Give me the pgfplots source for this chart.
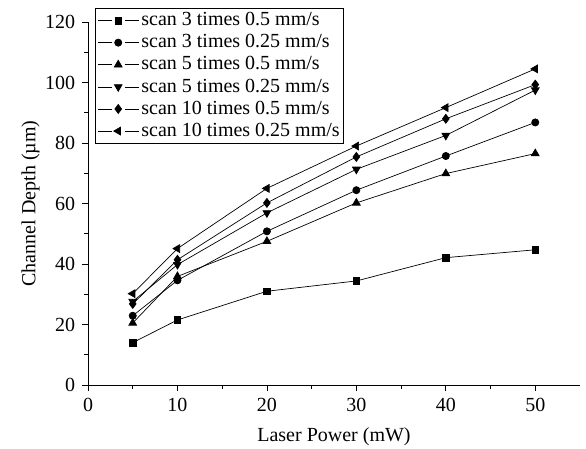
\documentclass[border=0pt]{standalone}
\usepackage{pgfplots}
\pgfplotsset{compat=1.18}
\usepackage{fontspec}
\setmainfont{Liberation Serif}
\begin{document}
\fontsize{20}{23}\selectfont
\begin{tikzpicture}
\begin{axis}[
  name=ax,
  scale only axis,
  width=492pt, height=363pt,
  xmin=0, xmax=55, ymin=0, ymax=120,
  axis x line*=bottom, axis y line*=left,
  axis line style={-, line width=0.9pt},
  xtick={0,10,20,30,40,50},
  minor xtick={5,15,25,35,45},
  ytick={0,20,40,60,80,100,120},
  minor ytick={10,30,50,70,90,110},
  tick align=outside,
  major tick length=6pt, minor tick length=4pt,
  tick style={line width=0.8pt, black},
  /pgf/number format/assume math mode=true,
  ticklabel style={font=\fontsize{20}{23}\selectfont},
  label style={font=\fontsize{20}{23}\selectfont},
  xlabel={Laser Power (mW)},
  ylabel={Channel Depth (\textmu m)},
  xlabel style={yshift=-3pt},
  ylabel style={yshift=-8pt},
  legend style={at={(axis description cs:0,1)}, anchor=north west, xshift=7pt, yshift=14pt,
    font=\fontsize{20}{23}\selectfont, draw=black, line width=0.8pt, inner sep=2pt,
    row sep=1.8pt, legend cell align=left,
    nodes={inner sep=2pt}},
  legend image code/.code={
    \draw[mark=none] (0cm,0cm) -- (0.5cm,0cm);
    \draw[mark=none] (0.95cm,0cm) -- (1.45cm,0cm);
    \draw plot[only marks] coordinates {(0.72cm,0cm)};},
]
\addplot[black, line width=0.7pt, mark=square*, mark size=3.3pt, mark options={solid, fill=black}] coordinates {(5,14) (10,21.5) (20,31) (30,34.4) (40,42.1) (50,44.7)};
\addlegendentry{scan 3 times 0.5 mm/s}
\addplot[black, line width=0.7pt, mark=*, mark size=3.6pt, mark options={solid, fill=black}] coordinates {(5,22.9) (10,34.6) (20,50.8) (30,64.4) (40,75.7) (50,86.8)};
\addlegendentry{scan 3 times 0.25 mm/s}
\addplot[black, line width=0.7pt, mark=triangle*, mark size=4.5pt, mark options={solid, fill=black}] coordinates {(5,20.5) (10,35.9) (20,47.5) (30,60.2) (40,69.9) (50,76.5)};
\addlegendentry{scan 5 times 0.5 mm/s}
\addplot[black, line width=0.7pt, mark=triangle*, mark size=4.5pt, mark options={solid, fill=black, rotate=180}] coordinates {(5,27.6) (10,39.8) (20,56.9) (30,71.3) (40,82.5) (50,97.5)};
\addlegendentry{scan 5 times 0.25 mm/s}
\addplot[black, line width=0.7pt, mark=diamond*, mark size=4.5pt, mark options={solid, fill=black}] coordinates {(5,26.8) (10,41.4) (20,60.2) (30,75.4) (40,88) (50,99.3)};
\addlegendentry{scan 10 times 0.5 mm/s}
\addplot[black, line width=0.7pt, mark=triangle*, mark size=4.5pt, mark options={solid, fill=black, rotate=90}] coordinates {(5,30.2) (10,45.1) (20,65) (30,79) (40,91.7) (50,104.5)};
\addlegendentry{scan 10 times 0.25 mm/s}
\end{axis}
\pgfresetboundingbox
\path ([shift={(-88pt,-63pt)}]ax.south west) rectangle ([shift={(6pt,22pt)}]ax.north east);
\end{tikzpicture}
\end{document}
